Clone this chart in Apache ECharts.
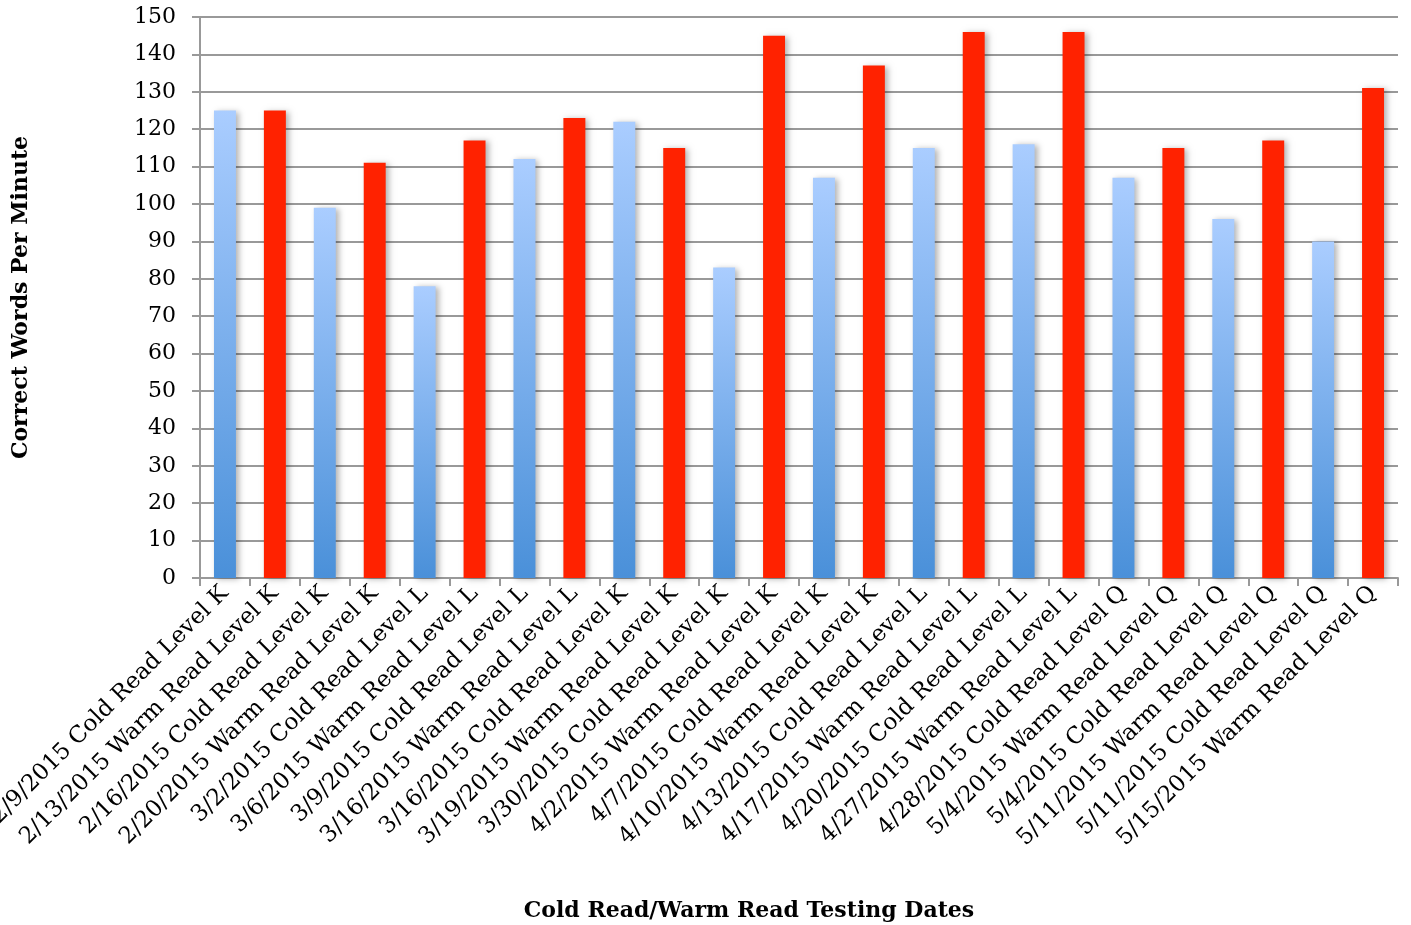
<!DOCTYPE html>
<html>
<head>
<meta charset="utf-8">
<script src="https://cdn.jsdelivr.net/npm/echarts@6/dist/echarts.min.js"></script>
<style>
html,body{margin:0;padding:0;background:#fff;}
#chart{width:1411px;height:925px;}
</style>
</head>
<body>
<div id="chart"></div>
<script>
const categories = [
  "2/9/2015 Cold Read Level K",
  "2/13/2015 Warm Read Level K",
  "2/16/2015 Cold Read Level K",
  "2/20/2015 Warm Read Level K",
  "3/2/2015 Cold Read Level L",
  "3/6/2015 Warm Read Level L",
  "3/9/2015 Cold Read Level L",
  "3/16/2015 Warm Read Level L",
  "3/16/2015 Cold Read Level K",
  "3/19/2015 Warm Read Level K",
  "3/30/2015 Cold Read Level K",
  "4/2/2015 Warm Read Level K",
  "4/7/2015 Cold Read Level K",
  "4/10/2015 Warm Read Level K",
  "4/13/2015 Cold Read Level L",
  "4/17/2015 Warm Read Level L",
  "4/20/2015 Cold Read Level L",
  "4/27/2015 Warm Read Level L",
  "4/28/2015 Cold Read Level Q",
  "5/4/2015 Warm Read Level Q",
  "5/4/2015 Cold Read Level Q",
  "5/11/2015 Warm Read Level Q",
  "5/11/2015 Cold Read Level Q",
  "5/15/2015 Warm Read Level Q"
];
const wordsPerMinute = [125,125,99,111,78,117,112,123,122,115,83,145,107,137,115,146,116,146,107,115,96,117,90,131];
const yTicks = {min:0, max:150, interval:10};
const xTitle = "Cold Read/Warm Read Testing Dates";
const yTitle = "Correct Words Per Minute";

const coldStyle = {
  color: new echarts.graphic.LinearGradient(0,0,0,1,[
    {offset:0,color:'#aacdff'},
    {offset:1,color:'#4a90d9'}
  ])
};
const warmStyle = {color:'#ff2200'};

const chart = echarts.init(document.getElementById('chart'));
const serif = "'DejaVu Serif', serif";
chart.setOption({
  backgroundColor:'#fff',
  animation:false,
  grid:{left:200, right:13, top:17, bottom:347, containLabel:false, outerBoundsMode:'none'},
  xAxis:{
    type:'category',
    data:categories,
    boundaryGap:true,
    name:xTitle,
    nameLocation:'middle',
    nameGap:322,
    nameTextStyle:{fontFamily:serif, fontWeight:'bold', fontSize:22, color:'#000', padding:[0,100,0,0]},
    axisLine:{lineStyle:{color:'#999', width:2}},
    axisTick:{show:true, alignWithLabel:false, length:8, lineStyle:{color:'#999', width:2}},
    axisLabel:{rotate:45, interval:0, margin:12, fontFamily:serif, fontSize:23, color:'#000'}
  },
  yAxis:{
    type:'value',
    min:yTicks.min, max:yTicks.max, interval:yTicks.interval,
    name:yTitle,
    nameLocation:'middle',
    nameGap:168,
    nameTextStyle:{fontFamily:serif, fontWeight:'bold', fontSize:22, color:'#000'},
    axisLine:{show:true, lineStyle:{color:'#999', width:2}},
    axisTick:{show:true, inside:false, length:8, lineStyle:{color:'#999', width:2}},
    axisLabel:{margin:24, fontFamily:serif, fontSize:22, color:'#000'},
    splitLine:{show:true, lineStyle:{color:'#999', width:2}}
  },
  series:[{
    type:'bar',
    barWidth:'44%',
    data:wordsPerMinute.map((v,i)=>({
      value:v,
      itemStyle:Object.assign({
        shadowColor:'rgba(0,0,0,0.3)', shadowBlur:6, shadowOffsetX:3, shadowOffsetY:1
      }, categories[i].indexOf('Cold')>=0 ? coldStyle : warmStyle)
    }))
  }]
});
</script>
</body>
</html>
